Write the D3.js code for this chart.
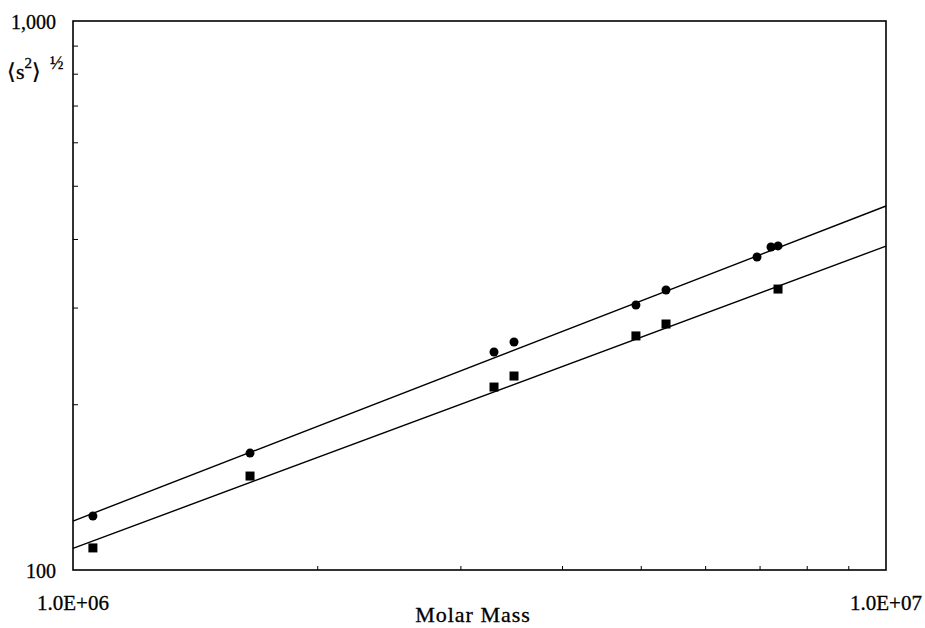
<!DOCTYPE html>
<html>
<head>
<meta charset="utf-8">
<script src="https://cdn.jsdelivr.net/npm/d3@7"></script>
<style>
    body { margin: 0; background: #fff; }
    text { font-family: "Liberation Serif", "Times New Roman", serif; fill: #000; stroke: #000; stroke-width: 0.3px; }
</style>
</head>
<body>
<div id="plot"></div>
<script>
// molar mass of each sample
let molarMass = [1.058e6, 1.651e6, 3.295e6, 3.487e6, 4.925e6, 5.363e6, 6.94e6, 7.22e6, 7.365e6];
// <s^2>^1/2, circles
let radiusCircles = [125.4, 163.3, 249.5, 260.2, 303.9, 323.6, 371.6, 387.6, 389.3];
// squares (measured for fewer samples)
let massSquares = [1.058e6, 1.651e6, 3.295e6, 3.487e6, 4.925e6, 5.363e6, 7.365e6];
let radiusSquares = [109.7, 148.3, 215.4, 225.6, 266.9, 280.6, 324.9];
// power law fits, value at the two ends of the axis
let fitCircles = [[1e6, 122.8], [1e7, 460.3]];
let fitSquares = [[1e6, 109.5], [1e7, 389]];

let xTickLabels = ["1.0E+06", "1.0E+07"];
let yTickLabels = ["100", "1,000"];
let xMinor = [2e6, 3e6, 4e6, 5e6, 6e6, 7e6, 8e6, 9e6];
let yMinor = [200, 300, 400, 500, 600, 700, 800, 900];

let opt = {
    width: 925,
    height: 628,
    margin: { top: 21, left: 73, bottom: 58, right: 39 }
};

let svg = d3.select("#plot").append("svg")
    .attr("width", opt.width)
    .attr("height", opt.height);

let x = d3.scaleLog()
    .domain([1e6, 1e7])
    .range([opt.margin.left, opt.width - opt.margin.right]);

let y = d3.scaleLog()
    .domain([100, 1000])
    .range([opt.height - opt.margin.bottom, opt.margin.top]);

let x0 = x.range()[0], x1 = x.range()[1],
    y0 = y.range()[0], y1 = y.range()[1];

// frame
svg.append("rect")
    .attr("x", x0)
    .attr("y", y1)
    .attr("width", x1 - x0)
    .attr("height", y0 - y1)
    .attr("fill", "none")
    .attr("stroke", "#000")
    .attr("stroke-width", 1.6);

// minor ticks, pointing inward
svg.selectAll(".x-minor")
    .data(xMinor)
    .enter()
    .append("line")
    .attr("class", "x-minor")
    .attr("x1", function (d) { return x(d); })
    .attr("x2", function (d) { return x(d); })
    .attr("y1", y0)
    .attr("y2", y0 - 4)
    .attr("stroke", "#000")
    .attr("stroke-width", 1);

svg.selectAll(".y-minor")
    .data(yMinor)
    .enter()
    .append("line")
    .attr("class", "y-minor")
    .attr("x1", x0)
    .attr("x2", x0 + 5)
    .attr("y1", function (d) { return y(d); })
    .attr("y2", function (d) { return y(d); })
    .attr("stroke", "#000")
    .attr("stroke-width", 1);

// tick labels
svg.selectAll(".y-label")
    .data(y.domain())
    .enter()
    .append("text")
    .attr("class", "y-label")
    .attr("x", x0 - 17)
    .attr("y", function (d) { return y(d) + 8; })
    .attr("text-anchor", "end")
    .attr("font-size", 20)
    .text(function (d, i) { return yTickLabels[i]; });

svg.selectAll(".x-label")
    .data(x.domain())
    .enter()
    .append("text")
    .attr("class", "x-label")
    .attr("x", function (d) { return x(d); })
    .attr("y", y0 + 40)
    .attr("text-anchor", "middle")
    .attr("font-size", 21)
    .text(function (d, i) { return xTickLabels[i]; });

// axis titles
svg.append("text")
    .attr("x", 473)
    .attr("y", opt.height - 6)
    .attr("text-anchor", "middle")
    .attr("font-size", 22)
    .attr("letter-spacing", 1)
    .text("Molar Mass");

let yTitle = svg.append("text")
    .attr("x", 7)
    .attr("y", 79)
    .attr("font-size", 22);
yTitle.append("tspan").text("\u27E8s");
yTitle.append("tspan").attr("dy", -11).attr("font-size", 15).text("2");
yTitle.append("tspan").attr("dy", 11).text("\u27E9");

svg.append("text")
    .attr("x", 50)
    .attr("y", 69)
    .attr("font-size", 18)
    .text("\u00BD");

// fit lines
let line = d3.line()
    .x(function (d) { return x(d[0]); })
    .y(function (d) { return y(d[1]); });

[fitCircles, fitSquares].forEach(function (fit) {
    svg.append("path")
        .attr("d", line(fit))
        .attr("fill", "none")
        .attr("stroke", "#000")
        .attr("stroke-width", 1.4);
});

// markers
svg.selectAll(".circle-pt")
    .data(molarMass)
    .enter()
    .append("circle")
    .attr("class", "circle-pt")
    .attr("cx", function (d) { return x(d); })
    .attr("cy", function (d, i) { return y(radiusCircles[i]); })
    .attr("r", 4.5)
    .attr("fill", "#000");

svg.selectAll(".square-pt")
    .data(massSquares)
    .enter()
    .append("rect")
    .attr("class", "square-pt")
    .attr("x", function (d) { return x(d) - 4.5; })
    .attr("y", function (d, i) { return y(radiusSquares[i]) - 4.5; })
    .attr("width", 9)
    .attr("height", 9)
    .attr("fill", "#000");
</script>
</body>
</html>
